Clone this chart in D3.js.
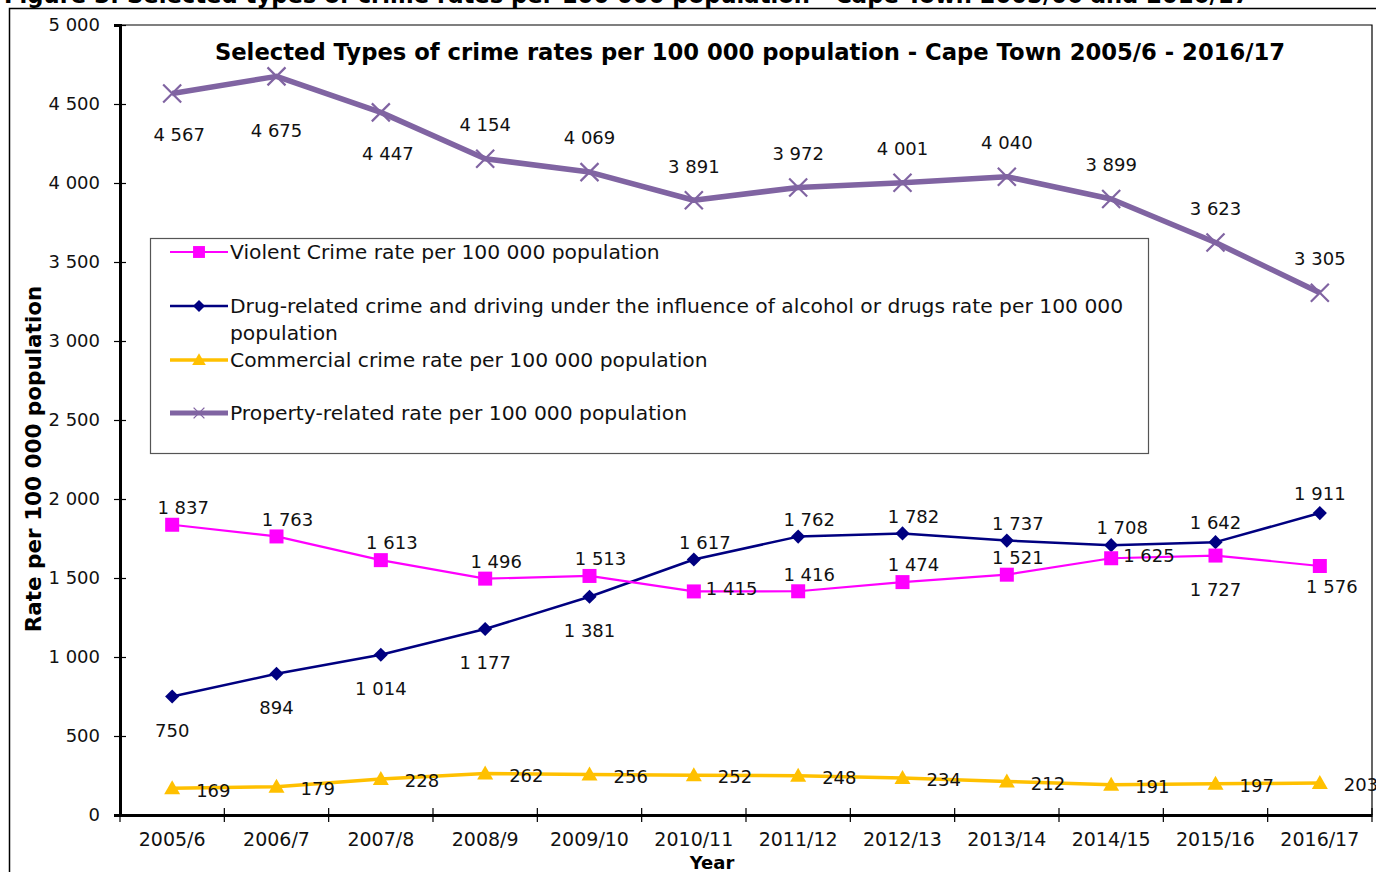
<!doctype html>
<meta charset="utf-8">
<style>
body { margin: 0; background: #fff; }
svg { display: block; font-family: "DejaVu Sans", sans-serif; }
.lbl { font-size: 18px; fill: #111; }
.leg { font-size: 20.3px; fill: #111; }
</style>
<body>
<div id="chart"></div>
<script src="https://cdn.jsdelivr.net/npm/d3@7/dist/d3.min.js"></script>
<script>
// chart data
var years = ['2005/6', '2006/7', '2007/8', '2008/9', '2009/10', '2010/11',
    '2011/12', '2012/13', '2013/14', '2014/15', '2015/16', '2016/17'];
var violent = [1837, 1763, 1613, 1496, 1513, 1415, 1416, 1474, 1521, 1625, 1642, 1576];
var drug = [750, 894, 1014, 1177, 1381, 1617, 1762, 1782, 1737, 1708, 1727, 1911];
var commercial = [169, 179, 228, 262, 256, 252, 248, 234, 212, 191, 197, 203];
var property = [4567, 4675, 4447, 4154, 4069, 3891, 3972, 4001, 4040, 3899, 3623, 3305];
// the printed labels (2015/16 labels are swapped in the original)
var violentText = [1837, 1763, 1613, 1496, 1513, 1415, 1416, 1474, 1521, 1625, 1727, 1576];
var drugText = [750, 894, 1014, 1177, 1381, 1617, 1762, 1782, 1737, 1708, 1642, 1911];
var yTicks = [0, 500, 1000, 1500, 2000, 2500, 3000, 3500, 4000, 4500, 5000];
var seriesNames = [
    'Violent Crime rate per 100 000 population',
    'Drug-related crime and driving under the influence of alcohol or drugs rate per 100 000|population',
    'Commercial crime rate per 100 000 population',
    'Property-related rate per 100 000 population'
];
// label placement codes
var violentPos = ['ar', 'ar', 'ar', 'ar', 'ar', 'r', 'ar', 'ar', 'ar', 'r', 'b', 'br'];
var drugPos = ['b', 'b', 'b', 'b', 'b', 'ar', 'ar', 'ar', 'ar', 'ar', 'a', 'a'];
var propertyPos = ['B', 'BB', 'B', 'A', 'A', 'A', 'A', 'A', 'A', 'A', 'A', 'A'];
var commercialPos = years.map(function () { return 'R'; });
</script>
<script>
var width = 1376, height = 872;
var plotLeft = 120, plotRight = 1372, plotTop = 25, plotBottom = 815;

var fmt = d3.formatLocale({decimal: '.', thousands: '\u00a0', grouping: [3], currency: ['', '']}).format(',d');

var svg = d3.select('#chart').append('svg')
    .attr('width', width)
    .attr('height', height);

svg.append('rect').attr('width', width).attr('height', height).attr('fill', '#fff');

// figure caption, cut off by the top edge
svg.append('text')
    .attr('x', 4).attr('y', 3)
    .style('font-weight', 'bold').style('font-size', '22.7px')
    .text('Figure 3: Selected types of crime rates per 100 000 population - Cape Town 2005/06 and 2016/17');

// chart frame
svg.append('rect')
    .attr('x', 9.5).attr('y', 8.5)
    .attr('width', 1400).attr('height', 900)
    .attr('fill', '#fff').attr('stroke', '#000').attr('stroke-width', 1.5);

var x = d3.scaleBand().domain(years).range([plotLeft, plotRight]);
var cx = function (i) { return x(years[i]) + x.bandwidth() / 2; };
var y = d3.scaleLinear().domain([0, 5000]).range([plotBottom, plotTop]);

// plot area border
svg.append('path')
    .attr('d', 'M' + plotLeft + ',' + plotTop + 'H' + plotRight + 'V' + plotBottom)
    .attr('fill', 'none').attr('stroke', '#000').attr('stroke-width', 1.2);

// y axis
var yAxis = svg.append('g')
    .attr('transform', 'translate(' + plotLeft + ',0)')
    .call(d3.axisLeft(y).tickValues(yTicks).tickFormat(fmt).tickSize(6).tickPadding(14));
yAxis.select('.domain').attr('stroke-width', 3);
yAxis.selectAll('.tick line').attr('x2', 6).attr('x1', -6).attr('stroke-width', 1.2);
yAxis.selectAll('.tick text').style('font-family', '"DejaVu Sans", sans-serif').style('font-size', '18px').attr('fill', '#111');

// x axis
var xAxis = svg.append('g')
    .attr('transform', 'translate(0,' + plotBottom + ')')
    .call(d3.axisBottom(x).tickSize(0).tickPadding(18));
xAxis.select('.domain').attr('stroke-width', 3);
xAxis.selectAll('.tick text').style('font-family', '"DejaVu Sans", sans-serif').style('font-size', '19px').attr('fill', '#111');
xAxis.selectAll('line.boundary')
    .data(d3.range(years.length + 1))
    .enter().append('line')
    .attr('x1', function (i) { return plotLeft + i * x.step(); })
    .attr('x2', function (i) { return plotLeft + i * x.step(); })
    .attr('y1', -7).attr('y2', 7)
    .attr('stroke', '#000').attr('stroke-width', 1.2);

svg.append('text')
    .attr('x', 712).attr('y', 869)
    .attr('text-anchor', 'middle')
    .style('font-weight', 'bold').style('font-size', '18px')
    .text('Year');

svg.append('text')
    .attr('transform', 'translate(41,459) rotate(-90)')
    .attr('text-anchor', 'middle')
    .style('font-weight', 'bold').style('font-size', '21.5px')
    .text('Rate per 100 000 population');

// title
svg.append('text')
    .attr('x', 750).attr('y', 60)
    .attr('text-anchor', 'middle')
    .style('font-weight', 'bold').style('font-size', '22.7px')
    .text('Selected Types of crime rates per 100 000 population - Cape Town 2005/6 - 2016/17');

// markers
function square(g) {
    g.append('rect').attr('x', -7).attr('y', -7).attr('width', 14).attr('height', 14)
        .attr('fill', '#ff00ff');
}
function diamond(g) {
    g.append('rect').attr('x', -5).attr('y', -5).attr('width', 10).attr('height', 10)
        .attr('transform', 'rotate(45)').attr('fill', '#000080');
}
function triangle(g) {
    g.append('path').attr('d', 'M0,-8L8,6H-8Z').attr('fill', '#ffc000');
}
function cross(g) {
    g.append('path').attr('d', 'M-9,-9L9,9M-9,9L9,-9')
        .attr('stroke', '#8064a2').attr('stroke-width', 2.2).attr('fill', 'none');
}

var series = [
    {values: commercial, text: commercial, pos: commercialPos, color: '#ffc000', width: 3.5, marker: triangle},
    {values: drug, text: drugText, pos: drugPos, color: '#000080', width: 2.5, marker: diamond},
    {values: violent, text: violentText, pos: violentPos, color: '#ff00ff', width: 2.2, marker: square},
    {values: property, text: property, pos: propertyPos, color: '#8064a2', width: 5.5, marker: cross}
];

// label offsets per placement code: [dx, dy, anchor]
var offsets = {
    a: [0, -19, 'middle'],
    ar: [11, -17, 'middle'],
    b: [0, 34, 'middle'],
    br: [12, 21, 'middle'],
    r: [12, -3, 'start'],
    A: [0, -34, 'middle'],
    B: [7, 41, 'middle'],
    BB: [0, 54, 'middle'],
    R: [24, 2, 'start']
};

var line = d3.line()
    .x(function (d, i) { return cx(i); })
    .y(function (d) { return y(d); });

series.forEach(function (s) {
    svg.append('path')
        .datum(s.values)
        .attr('d', line)
        .attr('fill', 'none')
        .attr('stroke', s.color)
        .attr('stroke-width', s.width)
        .attr('stroke-linejoin', 'round');
});

series.forEach(function (s) {
    s.values.forEach(function (v, i) {
        var g = svg.append('g').attr('transform', 'translate(' + cx(i) + ',' + y(v) + ')');
        s.marker(g);
    });
});

series.forEach(function (s) {
    s.values.forEach(function (v, i) {
        var o = offsets[s.pos[i]];
        svg.append('text')
            .attr('class', 'lbl')
            .attr('x', cx(i) + o[0])
            .attr('y', y(v) + o[1])
            .attr('dy', '0.35em')
            .attr('text-anchor', o[2])
            .text(fmt(s.text[i]));
    });
});

// legend
var legend = svg.append('g').attr('transform', 'translate(150,238)');
legend.append('rect')
    .attr('x', 0.5).attr('y', 0.5).attr('width', 998).attr('height', 215)
    .attr('fill', '#fff').attr('stroke', '#555').attr('stroke-width', 1.2);
var legendY = [14, 68, 122, 175];
var legendOrder = [2, 1, 0, 3];
legendOrder.forEach(function (si, k) {
    var s = series[si];
    var g = legend.append('g').attr('transform', 'translate(0,' + legendY[k] + ')');
    g.append('line').attr('x1', 20).attr('x2', 78)
        .attr('stroke', s.color).attr('stroke-width', si === 3 ? 5 : s.width);
    var m = g.append('g').attr('transform', 'translate(49,0)' + (si === 3 ? ' scale(0.6)' : ' scale(0.85)'));
    s.marker(m);
    var parts = seriesNames[k].split('|');
    parts.forEach(function (p, j) {
        g.append('text')
            .attr('class', 'leg')
            .attr('x', 80).attr('y', j * 27)
            .attr('dy', '0.35em')
            .text(p);
    });
});
</script>
</body>
